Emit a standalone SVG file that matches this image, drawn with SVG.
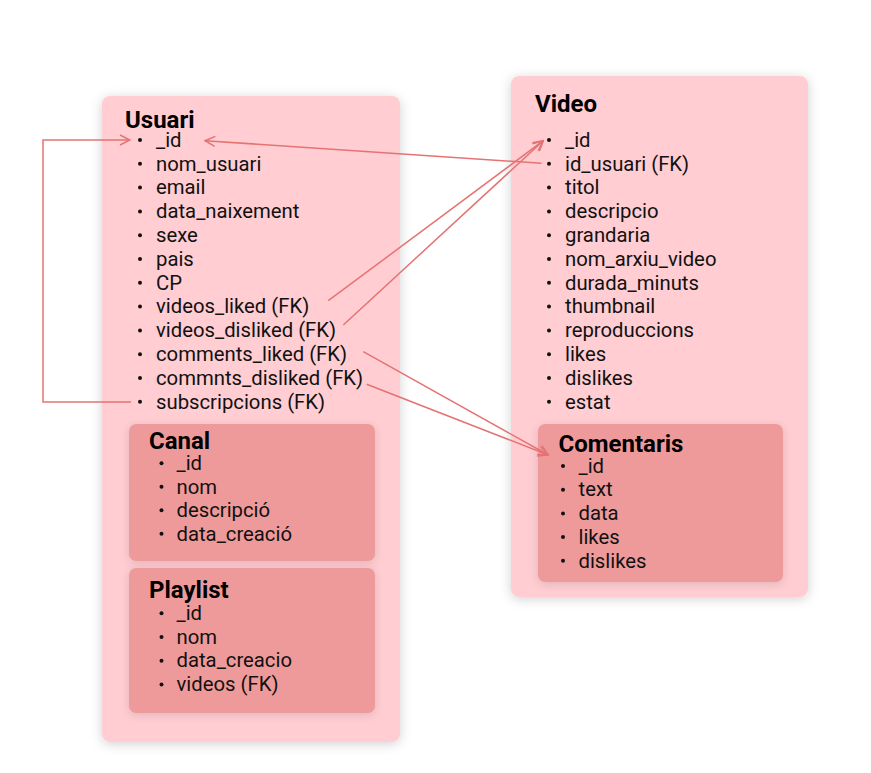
<svg xmlns="http://www.w3.org/2000/svg" width="871" height="773" viewBox="0 0 871 773">
<defs>
<style>
.outer{fill:#FFCDD2;filter:url(#sh)}
.inner{fill:#EF9A9A;filter:url(#sh2)}
.t{font-family:Roboto,"Liberation Sans",sans-serif;font-size:24px;font-weight:bold;fill:#000}
.i{font-family:Roboto,"Liberation Sans",sans-serif;font-size:20.3px;fill:#111}
.b{fill:#111}
.c{fill:none;stroke:#E57373;stroke-width:1.5}
</style>
<filter id="sh" x="-20%" y="-20%" width="140%" height="140%"><feDropShadow dx="0" dy="2" stdDeviation="6" flood-color="#000" flood-opacity="0.18"/></filter>
<filter id="sh2" x="-20%" y="-20%" width="140%" height="140%"><feDropShadow dx="0" dy="2" stdDeviation="5" flood-color="#000" flood-opacity="0.12"/></filter>
<marker id="ar" viewBox="0 0 12 12" refX="11" refY="6" markerWidth="12" markerHeight="12" markerUnits="userSpaceOnUse" orient="auto"><path d="M1,1 L11,6 L1,11" fill="none" stroke="#E57373" stroke-width="1.5"/></marker>
</defs>
<rect width="871" height="773" fill="#fff"/>
<g id="usuari">
<rect class="outer" x="102" y="96" width="298" height="646" rx="8"/>
<text class="t" x="125" y="127.5">Usuari</text>
<g class="b"><circle cx="140" cy="140" r="2"/><circle cx="140" cy="163.8" r="2"/><circle cx="140" cy="187.6" r="2"/><circle cx="140" cy="211.4" r="2"/><circle cx="140" cy="235.2" r="2"/><circle cx="140" cy="259" r="2"/><circle cx="140" cy="282.8" r="2"/><circle cx="140" cy="306.6" r="2"/><circle cx="140" cy="330.4" r="2"/><circle cx="140" cy="354.2" r="2"/><circle cx="140" cy="378" r="2"/><circle cx="140" cy="401.8" r="2"/></g>
<text class="i" x="156" y="146.7">_id</text>
<text class="i" x="156" y="170.5">nom_usuari</text>
<text class="i" x="156" y="194.3">email</text>
<text class="i" x="156" y="218.1">data_naixement</text>
<text class="i" x="156" y="241.9">sexe</text>
<text class="i" x="156" y="265.7">pais</text>
<text class="i" x="156" y="289.5">CP</text>
<text class="i" x="156" y="313.3">videos_liked (FK)</text>
<text class="i" x="156" y="337.1">videos_disliked (FK)</text>
<text class="i" x="156" y="360.9">comments_liked (FK)</text>
<text class="i" x="156" y="384.7">commnts_disliked (FK)</text>
<text class="i" x="156" y="408.5">subscripcions (FK)</text>
</g>
<g id="canal">
<rect class="inner" x="129" y="424" width="246" height="137" rx="7"/>
<text class="t" x="149" y="448.5">Canal</text>
<g class="b"><circle cx="161.5" cy="463.3" r="2"/><circle cx="161.5" cy="486.8" r="2"/><circle cx="161.5" cy="510.3" r="2"/><circle cx="161.5" cy="533.8" r="2"/></g>
<text class="i" x="176.5" y="470">_id</text>
<text class="i" x="176.5" y="493.5">nom</text>
<text class="i" x="176.5" y="517">descripció</text>
<text class="i" x="176.5" y="540.5">data_creació</text>
</g>
<g id="playlist">
<rect class="inner" x="129" y="568" width="246" height="145" rx="7"/>
<text class="t" x="149" y="597.5">Playlist</text>
<g class="b"><circle cx="161.5" cy="613.3" r="2"/><circle cx="161.5" cy="637" r="2"/><circle cx="161.5" cy="660.7" r="2"/><circle cx="161.5" cy="684.4" r="2"/></g>
<text class="i" x="176.5" y="620">_id</text>
<text class="i" x="176.5" y="643.7">nom</text>
<text class="i" x="176.5" y="667.4">data_creacio</text>
<text class="i" x="176.5" y="691.1">videos (FK)</text>
</g>
<g id="video">
<rect class="outer" x="511" y="76" width="297" height="521" rx="8"/>
<text class="t" x="535" y="112">Video</text>
<g class="b"><circle cx="549" cy="140" r="2"/><circle cx="549" cy="163.8" r="2"/><circle cx="549" cy="187.6" r="2"/><circle cx="549" cy="211.4" r="2"/><circle cx="549" cy="235.2" r="2"/><circle cx="549" cy="259" r="2"/><circle cx="549" cy="282.8" r="2"/><circle cx="549" cy="306.6" r="2"/><circle cx="549" cy="330.4" r="2"/><circle cx="549" cy="354.2" r="2"/><circle cx="549" cy="378" r="2"/><circle cx="549" cy="401.8" r="2"/></g>
<text class="i" x="565" y="146.7">_id</text>
<text class="i" x="565" y="170.5">id_usuari (FK)</text>
<text class="i" x="565" y="194.3">titol</text>
<text class="i" x="565" y="218.1">descripcio</text>
<text class="i" x="565" y="241.9">grandaria</text>
<text class="i" x="565" y="265.7">nom_arxiu_video</text>
<text class="i" x="565" y="289.5">durada_minuts</text>
<text class="i" x="565" y="313.3">thumbnail</text>
<text class="i" x="565" y="337.1">reproduccions</text>
<text class="i" x="565" y="360.9">likes</text>
<text class="i" x="565" y="384.7">dislikes</text>
<text class="i" x="565" y="408.5">estat</text>
</g>
<g id="comentaris">
<rect class="inner" x="538" y="424" width="245" height="158" rx="7"/>
<text class="t" x="558.5" y="451.5">Comentaris</text>
<g class="b"><circle cx="563" cy="466" r="2"/><circle cx="563" cy="489.7" r="2"/><circle cx="563" cy="513.4" r="2"/><circle cx="563" cy="537.1" r="2"/><circle cx="563" cy="560.8" r="2"/></g>
<text class="i" x="578.5" y="472.7">_id</text>
<text class="i" x="578.5" y="496.4">text</text>
<text class="i" x="578.5" y="520.1">data</text>
<text class="i" x="578.5" y="543.8">likes</text>
<text class="i" x="578.5" y="567.5">dislikes</text>
</g>
<g id="connectors">
<polyline class="c" points="131,402 43,402 43,140 130,140" marker-end="url(#ar)"/>
<line class="c" x1="541.5" y1="163.3" x2="205" y2="140.7" marker-end="url(#ar)"/>
<line class="c" x1="328.3" y1="300.7" x2="543.3" y2="140.7" marker-end="url(#ar)"/>
<line class="c" x1="343.3" y1="325" x2="543.3" y2="140.7" marker-end="url(#ar)"/>
<line class="c" x1="363.3" y1="351.7" x2="548.3" y2="455" marker-end="url(#ar)"/>
<line class="c" x1="366.7" y1="384.3" x2="548.3" y2="455" marker-end="url(#ar)"/>
</g>
</svg>
